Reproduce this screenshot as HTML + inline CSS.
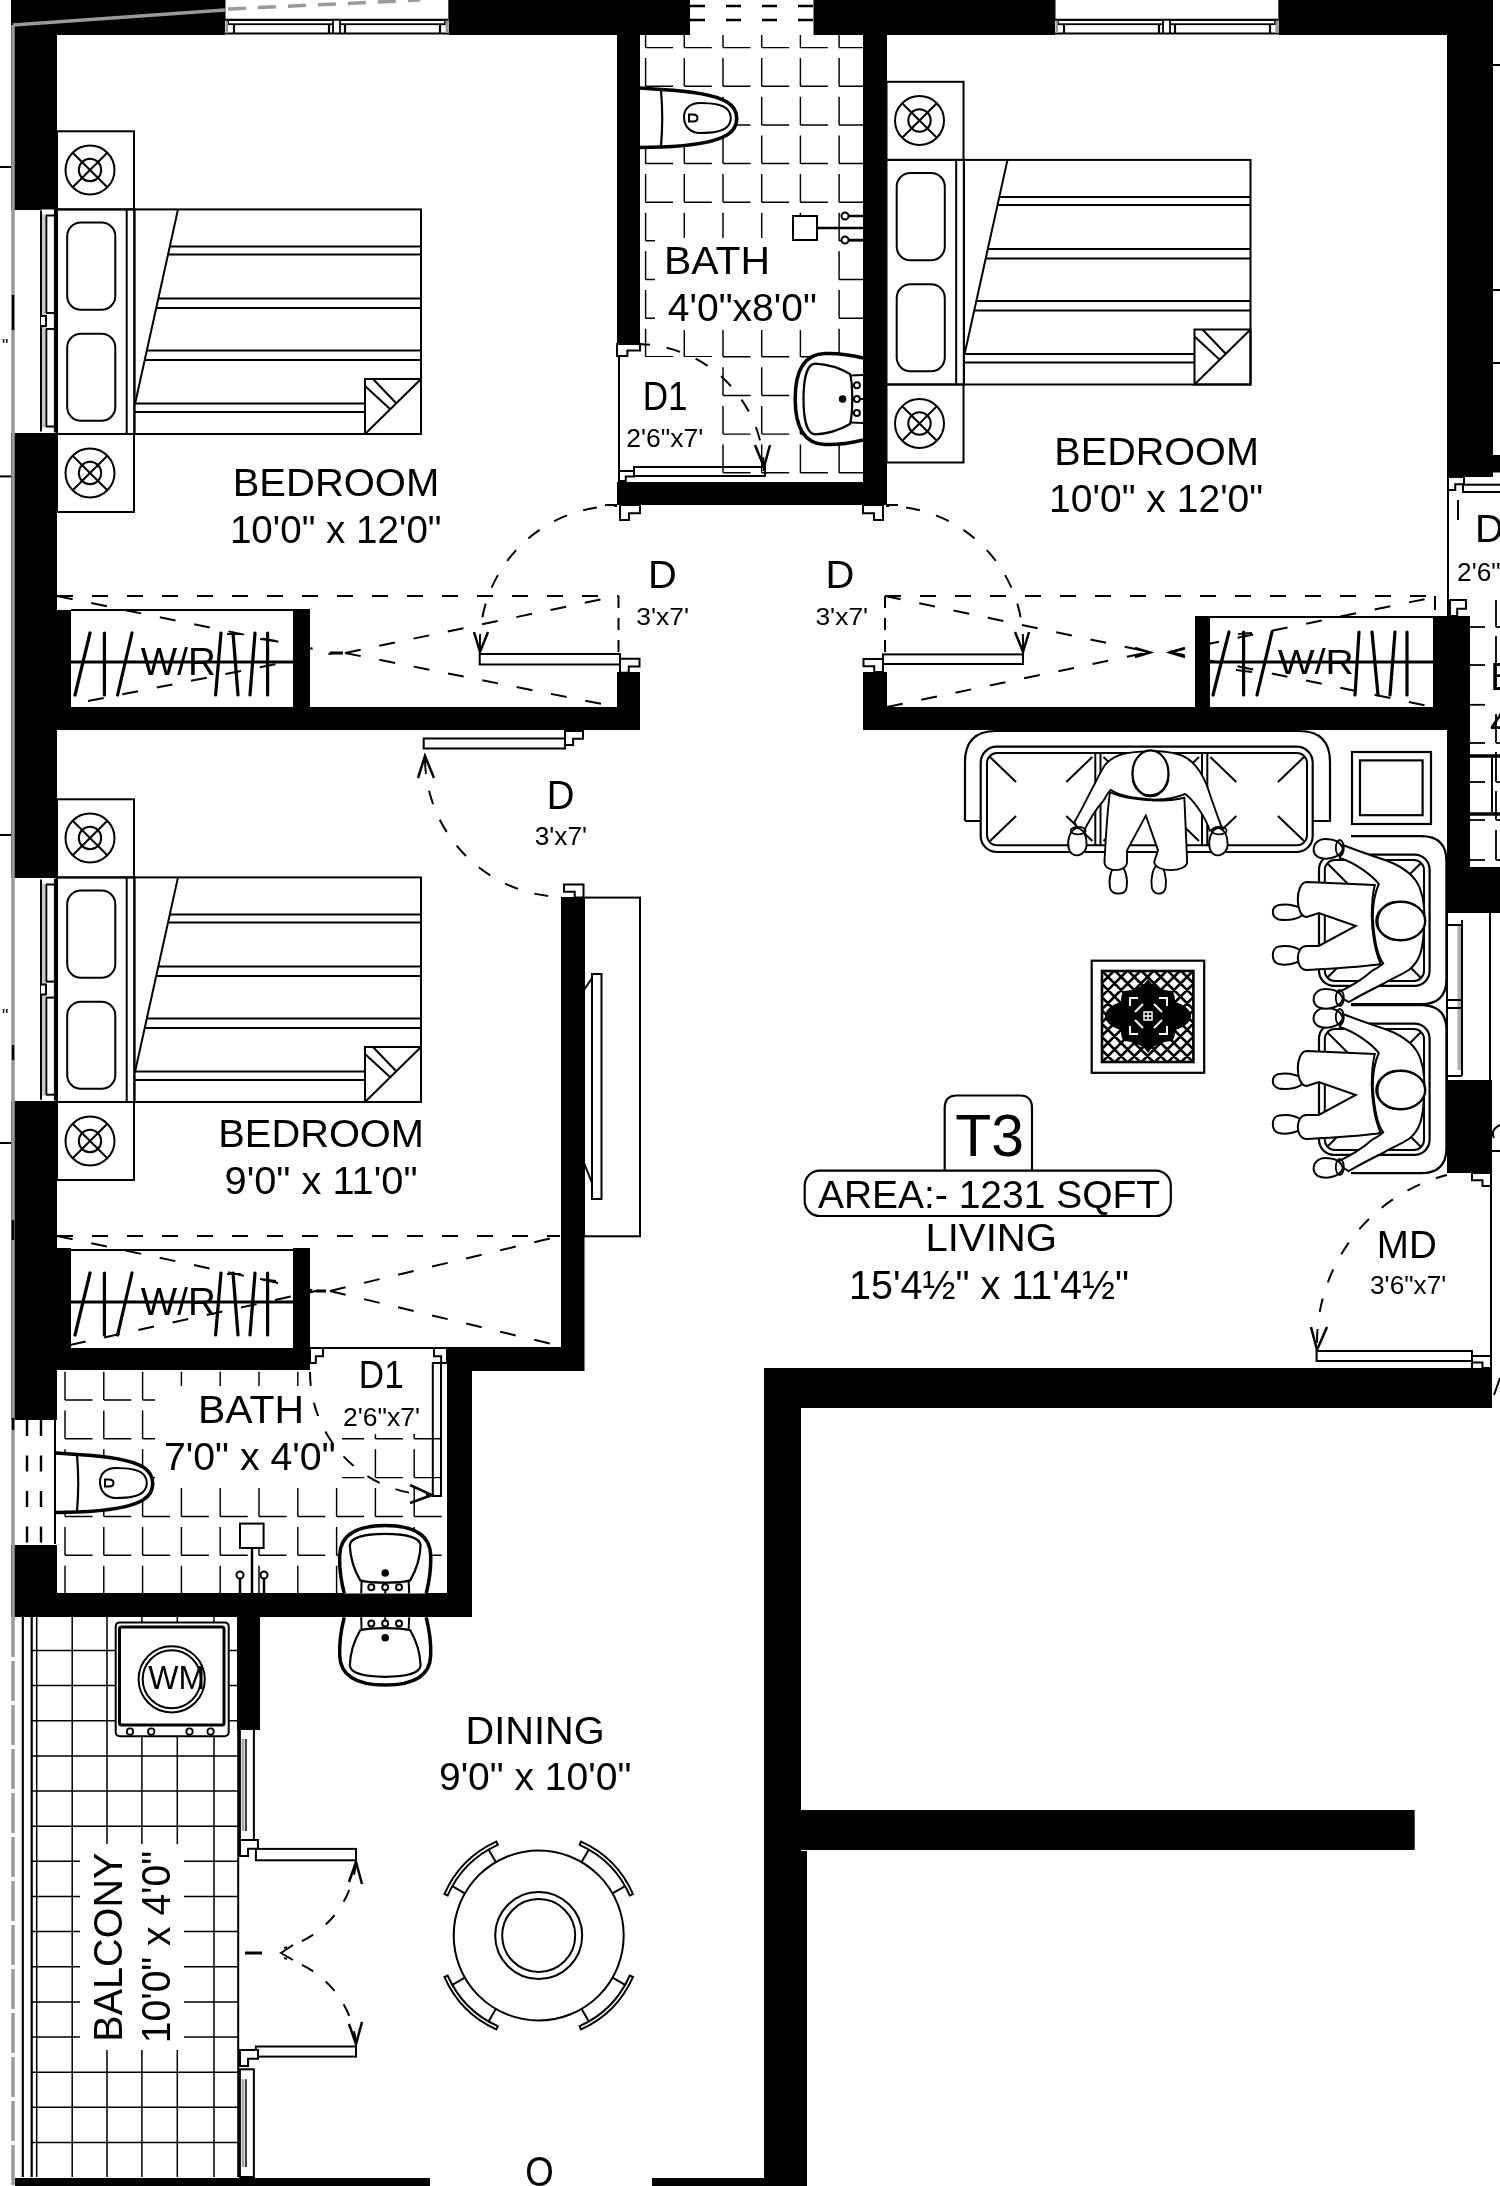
<!DOCTYPE html>
<html><head><meta charset="utf-8"><style>
html,body{margin:0;padding:0;background:#fff;}
svg{display:block;will-change:transform;}
text{font-family:"Liberation Sans",sans-serif;fill:#000;}
</style></head><body>
<svg width="1500" height="2186" viewBox="0 0 1500 2186">
<rect x="11" y="0" width="214.5" height="35" fill="#000"/>
<rect x="448.3" y="0" width="241.7" height="35" fill="#000"/>
<rect x="813.5" y="0" width="242.0" height="35" fill="#000"/>
<rect x="1278.3" y="0" width="214.20000000000005" height="35" fill="#000"/>
<rect x="11" y="0" width="46" height="210" fill="#000"/>
<rect x="11" y="433" width="46" height="445" fill="#000"/>
<rect x="11" y="1101" width="46" height="319" fill="#000"/>
<rect x="11" y="1545" width="46" height="72" fill="#000"/>
<rect x="617" y="35" width="23" height="310" fill="#000"/>
<rect x="863" y="35" width="24" height="465" fill="#000"/>
<rect x="617" y="482" width="270" height="23" fill="#000"/>
<rect x="1447" y="0" width="46" height="477" fill="#000"/>
<rect x="57" y="707" width="583" height="23" fill="#000"/>
<rect x="617" y="672" width="23" height="58" fill="#000"/>
<rect x="863" y="672" width="24" height="58" fill="#000"/>
<rect x="863" y="707" width="607" height="23" fill="#000"/>
<rect x="57" y="610" width="14" height="97" fill="#000"/>
<rect x="293" y="609" width="17" height="98" fill="#000"/>
<rect x="1195" y="616" width="15" height="91" fill="#000"/>
<rect x="1433" y="616" width="37" height="114" fill="#000"/>
<rect x="1447" y="616" width="23" height="297" fill="#000"/>
<rect x="1470" y="867" width="30" height="46" fill="#000"/>
<rect x="1447" y="1080" width="45" height="93" fill="#000"/>
<rect x="561" y="897" width="23.5" height="474" fill="#000"/>
<rect x="57" y="1348" width="253" height="22" fill="#000"/>
<rect x="57" y="1248" width="14" height="122" fill="#000"/>
<rect x="293" y="1248" width="17" height="122" fill="#000"/>
<rect x="447" y="1348" width="25" height="269" fill="#000"/>
<rect x="11" y="1593" width="461" height="24" fill="#000"/>
<rect x="237" y="1617" width="23" height="113" fill="#000"/>
<rect x="764" y="1368" width="728" height="40" fill="#000"/>
<rect x="764" y="1368" width="37" height="483" fill="#000"/>
<rect x="801" y="1810" width="613.7" height="40" fill="#000"/>
<rect x="764" y="1851" width="43" height="335" fill="#000"/>
<rect x="15" y="2178" width="415" height="8" fill="#000"/>
<rect x="652" y="2178" width="112" height="8" fill="#000"/>
<path d="M645.6 35.0V47.6 M645.6 47.6H673.1 M645.6 58.1V86.2 M645.6 86.2H673.1 M645.6 96.8V124.9 M645.6 124.9H673.1 M645.6 135.4V163.5 M645.6 163.5H673.1 M645.6 174.0V202.2 M645.6 202.2H673.1 M645.6 212.7V240.8 M645.6 240.8H673.1 M645.6 251.3V279.5 M645.6 279.5H673.1 M645.6 290.0V318.2 M645.6 318.2H673.1 M645.6 328.7V356.8 M645.6 356.8H673.1 M645.6 367.3V395.4 M645.6 395.4H673.1 M645.6 406.0V434.1 M645.6 434.1H673.1 M645.6 444.6V472.8 M645.6 472.8H673.1 M684.3 35.0V47.6 M684.3 47.6H711.8 M684.3 58.1V86.2 M684.3 86.2H711.8 M684.3 96.8V124.9 M684.3 124.9H711.8 M684.3 135.4V163.5 M684.3 163.5H711.8 M684.3 174.0V202.2 M684.3 202.2H711.8 M684.3 212.7V240.8 M684.3 240.8H711.8 M684.3 251.3V279.5 M684.3 279.5H711.8 M684.3 290.0V318.2 M684.3 318.2H711.8 M684.3 328.7V356.8 M684.3 356.8H711.8 M684.3 367.3V395.4 M684.3 395.4H711.8 M684.3 406.0V434.1 M684.3 434.1H711.8 M684.3 444.6V472.8 M684.3 472.8H711.8 M723.0 35.0V47.6 M723.0 47.6H750.5 M723.0 58.1V86.2 M723.0 86.2H750.5 M723.0 96.8V124.9 M723.0 124.9H750.5 M723.0 135.4V163.5 M723.0 163.5H750.5 M723.0 174.0V202.2 M723.0 202.2H750.5 M723.0 212.7V240.8 M723.0 240.8H750.5 M723.0 251.3V279.5 M723.0 279.5H750.5 M723.0 290.0V318.2 M723.0 318.2H750.5 M723.0 328.7V356.8 M723.0 356.8H750.5 M723.0 367.3V395.4 M723.0 395.4H750.5 M723.0 406.0V434.1 M723.0 434.1H750.5 M723.0 444.6V472.8 M723.0 472.8H750.5 M761.7 35.0V47.6 M761.7 47.6H789.2 M761.7 58.1V86.2 M761.7 86.2H789.2 M761.7 96.8V124.9 M761.7 124.9H789.2 M761.7 135.4V163.5 M761.7 163.5H789.2 M761.7 174.0V202.2 M761.7 202.2H789.2 M761.7 212.7V240.8 M761.7 240.8H789.2 M761.7 251.3V279.5 M761.7 279.5H789.2 M761.7 290.0V318.2 M761.7 318.2H789.2 M761.7 328.7V356.8 M761.7 356.8H789.2 M761.7 367.3V395.4 M761.7 395.4H789.2 M761.7 406.0V434.1 M761.7 434.1H789.2 M761.7 444.6V472.8 M761.7 472.8H789.2 M800.4 35.0V47.6 M800.4 47.6H827.9 M800.4 58.1V86.2 M800.4 86.2H827.9 M800.4 96.8V124.9 M800.4 124.9H827.9 M800.4 135.4V163.5 M800.4 163.5H827.9 M800.4 174.0V202.2 M800.4 202.2H827.9 M800.4 212.7V240.8 M800.4 240.8H827.9 M800.4 251.3V279.5 M800.4 279.5H827.9 M800.4 290.0V318.2 M800.4 318.2H827.9 M800.4 328.7V356.8 M800.4 356.8H827.9 M800.4 367.3V395.4 M800.4 395.4H827.9 M800.4 406.0V434.1 M800.4 434.1H827.9 M800.4 444.6V472.8 M800.4 472.8H827.9 M839.1 35.0V47.6 M839.1 47.6H863.0 M839.1 58.1V86.2 M839.1 86.2H863.0 M839.1 96.8V124.9 M839.1 124.9H863.0 M839.1 135.4V163.5 M839.1 163.5H863.0 M839.1 174.0V202.2 M839.1 202.2H863.0 M839.1 212.7V240.8 M839.1 240.8H863.0 M839.1 251.3V279.5 M839.1 279.5H863.0 M839.1 290.0V318.2 M839.1 318.2H863.0 M839.1 328.7V356.8 M839.1 356.8H863.0 M839.1 367.3V395.4 M839.1 395.4H863.0 M839.1 406.0V434.1 M839.1 434.1H863.0 M839.1 444.6V472.8 M839.1 472.8H863.0" stroke="#000" stroke-width="1.45" fill="none"/>
<path d="M65.0 1371.7V1400.0 M65.0 1400.0H92.5 M65.0 1410.5V1438.8 M65.0 1438.8H92.5 M65.0 1449.3V1477.6 M65.0 1477.6H92.5 M65.0 1488.1V1516.4 M65.0 1516.4H92.5 M65.0 1526.9V1555.2 M65.0 1555.2H92.5 M65.0 1565.7V1593.0 M103.8 1371.7V1400.0 M103.8 1400.0H131.3 M103.8 1410.5V1438.8 M103.8 1438.8H131.3 M103.8 1449.3V1477.6 M103.8 1477.6H131.3 M103.8 1488.1V1516.4 M103.8 1516.4H131.3 M103.8 1526.9V1555.2 M103.8 1555.2H131.3 M103.8 1565.7V1593.0 M142.6 1371.7V1400.0 M142.6 1400.0H170.1 M142.6 1410.5V1438.8 M142.6 1438.8H170.1 M142.6 1449.3V1477.6 M142.6 1477.6H170.1 M142.6 1488.1V1516.4 M142.6 1516.4H170.1 M142.6 1526.9V1555.2 M142.6 1555.2H170.1 M142.6 1565.7V1593.0 M181.4 1371.7V1400.0 M181.4 1400.0H208.9 M181.4 1410.5V1438.8 M181.4 1438.8H208.9 M181.4 1449.3V1477.6 M181.4 1477.6H208.9 M181.4 1488.1V1516.4 M181.4 1516.4H208.9 M181.4 1526.9V1555.2 M181.4 1555.2H208.9 M181.4 1565.7V1593.0 M220.2 1371.7V1400.0 M220.2 1400.0H247.7 M220.2 1410.5V1438.8 M220.2 1438.8H247.7 M220.2 1449.3V1477.6 M220.2 1477.6H247.7 M220.2 1488.1V1516.4 M220.2 1516.4H247.7 M220.2 1526.9V1555.2 M220.2 1555.2H247.7 M220.2 1565.7V1593.0 M259.0 1371.7V1400.0 M259.0 1400.0H286.5 M259.0 1410.5V1438.8 M259.0 1438.8H286.5 M259.0 1449.3V1477.6 M259.0 1477.6H286.5 M259.0 1488.1V1516.4 M259.0 1516.4H286.5 M259.0 1526.9V1555.2 M259.0 1555.2H286.5 M259.0 1565.7V1593.0 M297.8 1371.7V1400.0 M297.8 1400.0H325.3 M297.8 1410.5V1438.8 M297.8 1438.8H325.3 M297.8 1449.3V1477.6 M297.8 1477.6H325.3 M297.8 1488.1V1516.4 M297.8 1516.4H325.3 M297.8 1526.9V1555.2 M297.8 1555.2H325.3 M297.8 1565.7V1593.0 M336.6 1371.7V1400.0 M336.6 1400.0H364.1 M336.6 1410.5V1438.8 M336.6 1438.8H364.1 M336.6 1449.3V1477.6 M336.6 1477.6H364.1 M336.6 1488.1V1516.4 M336.6 1516.4H364.1 M336.6 1526.9V1555.2 M336.6 1555.2H364.1 M336.6 1565.7V1593.0 M375.4 1371.7V1400.0 M375.4 1400.0H402.9 M375.4 1410.5V1438.8 M375.4 1438.8H402.9 M375.4 1449.3V1477.6 M375.4 1477.6H402.9 M375.4 1488.1V1516.4 M375.4 1516.4H402.9 M375.4 1526.9V1555.2 M375.4 1555.2H402.9 M375.4 1565.7V1593.0 M414.2 1371.7V1400.0 M414.2 1400.0H441.7 M414.2 1410.5V1438.8 M414.2 1438.8H441.7 M414.2 1449.3V1477.6 M414.2 1477.6H441.7 M414.2 1488.1V1516.4 M414.2 1516.4H441.7 M414.2 1526.9V1555.2 M414.2 1555.2H441.7 M414.2 1565.7V1593.0" stroke="#000" stroke-width="1.45" fill="none"/>
<rect x="655" y="238" width="175" height="92" fill="#fff"/>
<rect x="621" y="357" width="91" height="125" fill="#fff"/>
<rect x="155" y="1386" width="187" height="95" fill="#fff"/>
<rect x="335" y="1352" width="111" height="82" fill="#fff"/>
<g transform="translate(0,0)">
<path d="M640 88 L661 89.5 C690 91 715 95 727 102 C740 110 740 127 727 135 C715 142 690 146 661 147 L640 147.5" fill="#fff" stroke="#000" stroke-width="3.6"/>
<path d="M661 90 C662.5 108 662.5 130 661 146" fill="none" stroke="#000" stroke-width="2.2"/>
<path d="M684 117 C684 107 692 103 700 103 C712 103 722 104 727 109 C732 114 732 122 727 127 C722 132 712 133 700 133 C692 133 684 128 684 117 Z" fill="none" stroke="#000" stroke-width="2"/>
<path d="M689 114.5 L689 121.5 H693 C696 121.5 697.5 120 697.5 118 C697.5 116 696 114.5 693 114.5 Z" fill="none" stroke="#000" stroke-width="2"/>
</g>
<g transform="translate(-584,1365)">
<path d="M640 88 L661 89.5 C690 91 715 95 727 102 C740 110 740 127 727 135 C715 142 690 146 661 147 L640 147.5" fill="#fff" stroke="#000" stroke-width="3.6"/>
<path d="M661 90 C662.5 108 662.5 130 661 146" fill="none" stroke="#000" stroke-width="2.2"/>
<path d="M684 117 C684 107 692 103 700 103 C712 103 722 104 727 109 C732 114 732 122 727 127 C722 132 712 133 700 133 C692 133 684 128 684 117 Z" fill="none" stroke="#000" stroke-width="2"/>
<path d="M689 114.5 L689 121.5 H693 C696 121.5 697.5 120 697.5 118 C697.5 116 696 114.5 693 114.5 Z" fill="none" stroke="#000" stroke-width="2"/>
</g>
<rect x="793" y="216" width="24" height="24" fill="#fff" stroke="#000" stroke-width="2"/>
<line x1="817" y1="228" x2="863" y2="228" stroke="#000" stroke-width="2.5"/>
<line x1="848" y1="216" x2="863" y2="216" stroke="#000" stroke-width="2.5"/>
<line x1="848" y1="240" x2="863" y2="240" stroke="#000" stroke-width="2.5"/>
<circle cx="845" cy="216" r="3.5" fill="#fff" stroke="#000" stroke-width="2"/>
<circle cx="845" cy="240" r="3.5" fill="#fff" stroke="#000" stroke-width="2"/>
<rect x="240" y="1523.6" width="23.6" height="24.4" fill="#fff" stroke="#000" stroke-width="2"/>
<line x1="252" y1="1548" x2="252" y2="1593" stroke="#000" stroke-width="2.5"/>
<line x1="240" y1="1578" x2="240" y2="1593" stroke="#000" stroke-width="2.5"/>
<line x1="264" y1="1578" x2="264" y2="1593" stroke="#000" stroke-width="2.5"/>
<circle cx="240" cy="1575" r="3.5" fill="#fff" stroke="#000" stroke-width="2"/>
<circle cx="264" cy="1575" r="3.5" fill="#fff" stroke="#000" stroke-width="2"/>
<g transform="translate(0,0)">
<line x1="71" y1="610" x2="293.6" y2="610" stroke="#000" stroke-width="2.2"/>
<line x1="71" y1="662" x2="293.6" y2="662" stroke="#000" stroke-width="3"/>
<line x1="90" y1="633" x2="75" y2="695" stroke="#000" stroke-width="3.2" stroke-linecap="round"/>
<line x1="104.4" y1="633" x2="104.4" y2="695" stroke="#000" stroke-width="3.2" stroke-linecap="round"/>
<line x1="132" y1="633" x2="117.6" y2="695" stroke="#000" stroke-width="3.2" stroke-linecap="round"/>
<line x1="221" y1="633" x2="215.6" y2="695" stroke="#000" stroke-width="3.2" stroke-linecap="round"/>
<line x1="233" y1="633" x2="238" y2="695" stroke="#000" stroke-width="3.2" stroke-linecap="round"/>
<line x1="227" y1="634" x2="241" y2="634" stroke="#000" stroke-width="2"/>
<line x1="255" y1="633" x2="250" y2="695" stroke="#000" stroke-width="3.2" stroke-linecap="round"/>
<line x1="267.6" y1="633" x2="267.6" y2="695" stroke="#000" stroke-width="3.2" stroke-linecap="round"/>
<line x1="260" y1="639" x2="276" y2="641" stroke="#000" stroke-width="2"/>
</g>
<g transform="translate(0,640)">
<line x1="71" y1="610" x2="293.6" y2="610" stroke="#000" stroke-width="2.2"/>
<line x1="71" y1="662" x2="293.6" y2="662" stroke="#000" stroke-width="3"/>
<line x1="90" y1="633" x2="75" y2="695" stroke="#000" stroke-width="3.2" stroke-linecap="round"/>
<line x1="104.4" y1="633" x2="104.4" y2="695" stroke="#000" stroke-width="3.2" stroke-linecap="round"/>
<line x1="132" y1="633" x2="117.6" y2="695" stroke="#000" stroke-width="3.2" stroke-linecap="round"/>
<line x1="221" y1="633" x2="215.6" y2="695" stroke="#000" stroke-width="3.2" stroke-linecap="round"/>
<line x1="233" y1="633" x2="238" y2="695" stroke="#000" stroke-width="3.2" stroke-linecap="round"/>
<line x1="227" y1="634" x2="241" y2="634" stroke="#000" stroke-width="2"/>
<line x1="255" y1="633" x2="250" y2="695" stroke="#000" stroke-width="3.2" stroke-linecap="round"/>
<line x1="267.6" y1="633" x2="267.6" y2="695" stroke="#000" stroke-width="3.2" stroke-linecap="round"/>
<line x1="260" y1="639" x2="276" y2="641" stroke="#000" stroke-width="2"/>
</g>
<line x1="1210" y1="617" x2="1433" y2="617" stroke="#000" stroke-width="2.2"/>
<line x1="1210" y1="662" x2="1433" y2="662" stroke="#000" stroke-width="3"/>
<line x1="1229" y1="632" x2="1213" y2="695" stroke="#000" stroke-width="3.2" stroke-linecap="round"/>
<line x1="1243.6" y1="632" x2="1243.6" y2="695" stroke="#000" stroke-width="3.2" stroke-linecap="round"/>
<line x1="1238" y1="634" x2="1252" y2="633" stroke="#000" stroke-width="2"/>
<line x1="1236" y1="670" x2="1252" y2="672" stroke="#000" stroke-width="2"/>
<line x1="1272" y1="632" x2="1257" y2="695" stroke="#000" stroke-width="3.2" stroke-linecap="round"/>
<line x1="1359" y1="632" x2="1355" y2="695" stroke="#000" stroke-width="3.2" stroke-linecap="round"/>
<line x1="1372" y1="632" x2="1378" y2="695" stroke="#000" stroke-width="3.2" stroke-linecap="round"/>
<line x1="1395" y1="632" x2="1390" y2="695" stroke="#000" stroke-width="3.2" stroke-linecap="round"/>
<line x1="1407" y1="632" x2="1407" y2="695" stroke="#000" stroke-width="3.2" stroke-linecap="round"/>
<line x1="57" y1="596" x2="618.5" y2="596" stroke="#000" stroke-width="2" stroke-dasharray="16 19"/>
<line x1="618.5" y1="596" x2="618.5" y2="655" stroke="#000" stroke-width="2" stroke-dasharray="12 10"/>
<line x1="57" y1="596" x2="333" y2="653" stroke="#000" stroke-width="2" stroke-dasharray="16 19"/>
<line x1="88" y1="701" x2="333" y2="653" stroke="#000" stroke-width="2" stroke-dasharray="16 19"/>
<line x1="345" y1="653" x2="617" y2="596" stroke="#000" stroke-width="2" stroke-dasharray="16 19"/>
<line x1="345" y1="653" x2="617" y2="707" stroke="#000" stroke-width="2" stroke-dasharray="16 19"/>
<line x1="330" y1="653" x2="343" y2="653" stroke="#000" stroke-width="3"/>
<line x1="885" y1="596" x2="1435" y2="596" stroke="#000" stroke-width="2" stroke-dasharray="16 19"/>
<line x1="885" y1="596" x2="885" y2="655" stroke="#000" stroke-width="2" stroke-dasharray="12 10"/>
<line x1="1435" y1="596" x2="1435" y2="610" stroke="#000" stroke-width="2"/>
<line x1="885" y1="596" x2="1150" y2="652" stroke="#000" stroke-width="2" stroke-dasharray="16 19"/>
<line x1="887" y1="707" x2="1150" y2="652" stroke="#000" stroke-width="2" stroke-dasharray="16 19"/>
<line x1="1169" y1="652" x2="1435" y2="597" stroke="#000" stroke-width="2" stroke-dasharray="16 19"/>
<line x1="1169" y1="652" x2="1433" y2="707" stroke="#000" stroke-width="2" stroke-dasharray="16 19"/>
<path d="M1135 648 L1150 652.5 L1135 657" fill="none" stroke="#000" stroke-width="2.5"/>
<path d="M1185 648 L1170 652.5 L1185 657" fill="none" stroke="#000" stroke-width="2.5"/>
<line x1="57" y1="1236" x2="560" y2="1236" stroke="#000" stroke-width="2" stroke-dasharray="16 19"/>
<line x1="57" y1="1236" x2="316" y2="1291" stroke="#000" stroke-width="2" stroke-dasharray="16 19"/>
<line x1="70" y1="1345" x2="316" y2="1291" stroke="#000" stroke-width="2" stroke-dasharray="16 19"/>
<line x1="330" y1="1291" x2="560" y2="1236" stroke="#000" stroke-width="2" stroke-dasharray="16 19"/>
<line x1="330" y1="1291" x2="560" y2="1346" stroke="#000" stroke-width="2" stroke-dasharray="16 19"/>
<line x1="316" y1="1291" x2="326" y2="1291" stroke="#000" stroke-width="3"/>
<rect x="479.7" y="654" width="140.3" height="10.5" rx="0" fill="none" stroke="#000" stroke-width="2"/>
<path d="M620 672.7 V658.7 H639.5 V666.4000000000001 H628.775 V672.7 Z" fill="#fff" stroke="#000" stroke-width="2"/>
<path d="M480 648 A137 137 0 0 1 617 506" fill="none" stroke="#000" stroke-width="2" stroke-dasharray="14 17"/>
<path d="M474 632 L480 652 L488 632" fill="none" stroke="#000" stroke-width="2.5"/>
<line x1="605" y1="505" x2="617" y2="505" stroke="#000" stroke-width="2"/>
<path d="M620 520 V505 H640 V513.25 H629.0 V520 Z" fill="#fff" stroke="#000" stroke-width="2"/>
<rect x="883" y="654.4" width="140" height="9.600000000000023" rx="0" fill="none" stroke="#000" stroke-width="2"/>
<path d="M883.0 672 V659 H863.5 V666.15 H874.225 V672 Z" fill="#fff" stroke="#000" stroke-width="2"/>
<path d="M1023 648 A137 137 0 0 0 886 506" fill="none" stroke="#000" stroke-width="2" stroke-dasharray="14 17"/>
<path d="M1015 632 L1023 652 L1029 632" fill="none" stroke="#000" stroke-width="2.5"/>
<line x1="886" y1="505" x2="898" y2="505" stroke="#000" stroke-width="2"/>
<path d="M883 520 V505 H863 V513.25 H874.0 V520 Z" fill="#fff" stroke="#000" stroke-width="2"/>
<rect x="423.7" y="738.5" width="141.3" height="10.0" rx="0" fill="none" stroke="#000" stroke-width="2"/>
<path d="M565 745 V731 H583 V738.7 H573.1 V745 Z" fill="#fff" stroke="#000" stroke-width="2"/>
<path d="M425 760 A140 140 0 0 0 565 897" fill="none" stroke="#000" stroke-width="2" stroke-dasharray="14 17"/>
<path d="M418 778 L425 756 L434 778" fill="none" stroke="#000" stroke-width="2.5"/>
<path d="M583.5 897.6 V884.4 H564 V891.66 H574.725 V897.6 Z" fill="#fff" stroke="#000" stroke-width="2"/>
<line x1="619" y1="356" x2="619" y2="483" stroke="#000" stroke-width="2"/>
<path d="M617 356 V344 H640 V350.6 H627.35 V356 Z" fill="#fff" stroke="#000" stroke-width="2"/>
<rect x="634" y="467" width="131" height="9" rx="0" fill="none" stroke="#000" stroke-width="2"/>
<path d="M619 481 V471 H634 V476.5 H625.75 V481 Z" fill="#fff" stroke="#000" stroke-width="2"/>
<path d="M636 344 A128 128 0 0 1 764 472" fill="none" stroke="#000" stroke-width="2" stroke-dasharray="14 17"/>
<path d="M755 445 L764 467 L770 445" fill="none" stroke="#000" stroke-width="2.5"/>
<line x1="310" y1="1348" x2="447" y2="1348" stroke="#000" stroke-width="2"/>
<path d="M310 1363 V1348 H323 V1356.25 H315.85 V1363 Z" fill="#fff" stroke="#000" stroke-width="2"/>
<path d="M447 1363 V1348 H434 V1356.25 H441.15 V1363 Z" fill="#fff" stroke="#000" stroke-width="2"/>
<rect x="432.8" y="1363" width="8.199999999999989" height="133" rx="0" fill="none" stroke="#000" stroke-width="2"/>
<path d="M310 1372 A123 123 0 0 0 433 1495" fill="none" stroke="#000" stroke-width="2" stroke-dasharray="14 17"/>
<path d="M410 1485 L432 1495 L410 1503" fill="none" stroke="#000" stroke-width="2.5"/>
<g transform="translate(0,0)">
<rect x="225" y="19" width="223.5" height="16" fill="#fff"/>
<line x1="225" y1="19.7" x2="448.5" y2="19.7" stroke="#000" stroke-width="2"/>
<line x1="225" y1="33.5" x2="448.5" y2="33.5" stroke="#000" stroke-width="2"/>
<rect x="228" y="20" width="105" height="4.199999999999999" rx="0" fill="none" stroke="#000" stroke-width="1.8"/>
<rect x="340" y="20" width="105" height="4.199999999999999" rx="0" fill="none" stroke="#000" stroke-width="1.8"/>
<line x1="234" y1="24" x2="234" y2="33.5" stroke="#000" stroke-width="2.2"/>
<line x1="329" y1="24" x2="329" y2="33.5" stroke="#000" stroke-width="2.2"/>
<line x1="345" y1="24" x2="345" y2="33.5" stroke="#000" stroke-width="2.2"/>
<line x1="440" y1="24" x2="440" y2="33.5" stroke="#000" stroke-width="2.2"/>
<line x1="333" y1="24" x2="333" y2="33.5" stroke="#000" stroke-width="1.8"/>
<line x1="340" y1="24" x2="340" y2="33.5" stroke="#000" stroke-width="1.8"/>
<rect x="445.5" y="21" width="2.5" height="12" fill="#999"/>
<rect x="225.5" y="21" width="2.5" height="12" fill="#999"/>
</g>
<g transform="translate(830,0)">
<rect x="225" y="19" width="223.5" height="16" fill="#fff"/>
<line x1="225" y1="19.7" x2="448.5" y2="19.7" stroke="#000" stroke-width="2"/>
<line x1="225" y1="33.5" x2="448.5" y2="33.5" stroke="#000" stroke-width="2"/>
<rect x="228" y="20" width="105" height="4.199999999999999" rx="0" fill="none" stroke="#000" stroke-width="1.8"/>
<rect x="340" y="20" width="105" height="4.199999999999999" rx="0" fill="none" stroke="#000" stroke-width="1.8"/>
<line x1="234" y1="24" x2="234" y2="33.5" stroke="#000" stroke-width="2.2"/>
<line x1="329" y1="24" x2="329" y2="33.5" stroke="#000" stroke-width="2.2"/>
<line x1="345" y1="24" x2="345" y2="33.5" stroke="#000" stroke-width="2.2"/>
<line x1="440" y1="24" x2="440" y2="33.5" stroke="#000" stroke-width="2.2"/>
<line x1="333" y1="24" x2="333" y2="33.5" stroke="#000" stroke-width="1.8"/>
<line x1="340" y1="24" x2="340" y2="33.5" stroke="#000" stroke-width="1.8"/>
<rect x="445.5" y="21" width="2.5" height="12" fill="#999"/>
<rect x="225.5" y="21" width="2.5" height="12" fill="#999"/>
</g>
<line x1="690" y1="6" x2="814" y2="6" stroke="#000" stroke-width="2.5" stroke-dasharray="15 21"/>
<line x1="690" y1="20" x2="814" y2="20" stroke="#000" stroke-width="2.5" stroke-dasharray="15 21"/>
<g transform="translate(0,0)">
<rect x="57" y="131.3" width="77" height="78.1" rx="0" fill="none" stroke="#000" stroke-width="2"/>
<circle cx="90" cy="170" r="24.5" fill="none" stroke="#000" stroke-width="2"/>
<circle cx="90" cy="170" r="11.2" fill="none" stroke="#000" stroke-width="2"/>
<line x1="72.67605" y1="152.67605" x2="107.32395" y2="187.32395" stroke="#000" stroke-width="2"/>
<line x1="72.67605" y1="187.32395" x2="107.32395" y2="152.67605" stroke="#000" stroke-width="2"/>
<rect x="57" y="434" width="77" height="78" rx="0" fill="none" stroke="#000" stroke-width="2"/>
<circle cx="90" cy="473" r="24.5" fill="none" stroke="#000" stroke-width="2"/>
<circle cx="90" cy="473" r="11.2" fill="none" stroke="#000" stroke-width="2"/>
<line x1="72.67605" y1="455.67605" x2="107.32395" y2="490.32395" stroke="#000" stroke-width="2"/>
<line x1="72.67605" y1="490.32395" x2="107.32395" y2="455.67605" stroke="#000" stroke-width="2"/>
<rect x="57" y="209.4" width="77.4" height="224.6" rx="0" fill="none" stroke="#000" stroke-width="2"/>
<line x1="126.7" y1="209.4" x2="126.7" y2="434" stroke="#000" stroke-width="2"/>
<rect x="67.2" y="222.5" width="48.099999999999994" height="87.19999999999999" rx="13.7" fill="none" stroke="#000" stroke-width="2"/>
<rect x="67.2" y="333.7" width="48.099999999999994" height="87.10000000000002" rx="13.7" fill="none" stroke="#000" stroke-width="2"/>
<rect x="134.4" y="209.4" width="286.6" height="224.6" rx="0" fill="none" stroke="#000" stroke-width="2"/>
<line x1="178" y1="209.4" x2="135" y2="404" stroke="#000" stroke-width="2"/>
<line x1="169.82425488180883" y1="246.4" x2="421" y2="246.4" stroke="#000" stroke-width="2"/>
<line x1="168.05652620760534" y1="254.4" x2="421" y2="254.4" stroke="#000" stroke-width="2"/>
<line x1="158.28982528263103" y1="298.6" x2="421" y2="298.6" stroke="#000" stroke-width="2"/>
<line x1="156.21274409044193" y1="308" x2="421" y2="308" stroke="#000" stroke-width="2"/>
<line x1="146.8437821171634" y1="350.4" x2="421" y2="350.4" stroke="#000" stroke-width="2"/>
<line x1="144.72250770811922" y1="360" x2="421" y2="360" stroke="#000" stroke-width="2"/>
<line x1="135.08838643371018" y1="403.6" x2="365" y2="403.6" stroke="#000" stroke-width="2"/>
<line x1="134.4" y1="412" x2="365" y2="412" stroke="#000" stroke-width="2"/>
<rect x="365" y="379" width="56" height="55" rx="0" fill="none" stroke="#000" stroke-width="2"/>
<line x1="365" y1="434" x2="421" y2="379" stroke="#000" stroke-width="2"/>
<line x1="373" y1="379" x2="396" y2="403" stroke="#000" stroke-width="2"/>
<line x1="365" y1="386" x2="390" y2="409" stroke="#000" stroke-width="2"/>
</g>
<g transform="translate(829.5,-49.5)">
<rect x="57" y="131.3" width="77" height="78.1" rx="0" fill="none" stroke="#000" stroke-width="2"/>
<circle cx="90" cy="170" r="24.5" fill="none" stroke="#000" stroke-width="2"/>
<circle cx="90" cy="170" r="11.2" fill="none" stroke="#000" stroke-width="2"/>
<line x1="72.67605" y1="152.67605" x2="107.32395" y2="187.32395" stroke="#000" stroke-width="2"/>
<line x1="72.67605" y1="187.32395" x2="107.32395" y2="152.67605" stroke="#000" stroke-width="2"/>
<rect x="57" y="434" width="77" height="78" rx="0" fill="none" stroke="#000" stroke-width="2"/>
<circle cx="90" cy="473" r="24.5" fill="none" stroke="#000" stroke-width="2"/>
<circle cx="90" cy="473" r="11.2" fill="none" stroke="#000" stroke-width="2"/>
<line x1="72.67605" y1="455.67605" x2="107.32395" y2="490.32395" stroke="#000" stroke-width="2"/>
<line x1="72.67605" y1="490.32395" x2="107.32395" y2="455.67605" stroke="#000" stroke-width="2"/>
<rect x="57" y="209.4" width="77.4" height="224.6" rx="0" fill="none" stroke="#000" stroke-width="2"/>
<line x1="126.7" y1="209.4" x2="126.7" y2="434" stroke="#000" stroke-width="2"/>
<rect x="67.2" y="222.5" width="48.099999999999994" height="87.19999999999999" rx="13.7" fill="none" stroke="#000" stroke-width="2"/>
<rect x="67.2" y="333.7" width="48.099999999999994" height="87.10000000000002" rx="13.7" fill="none" stroke="#000" stroke-width="2"/>
<rect x="134.4" y="209.4" width="286.6" height="224.6" rx="0" fill="none" stroke="#000" stroke-width="2"/>
<line x1="178" y1="209.4" x2="135" y2="404" stroke="#000" stroke-width="2"/>
<line x1="169.82425488180883" y1="246.4" x2="421" y2="246.4" stroke="#000" stroke-width="2"/>
<line x1="168.05652620760534" y1="254.4" x2="421" y2="254.4" stroke="#000" stroke-width="2"/>
<line x1="158.28982528263103" y1="298.6" x2="421" y2="298.6" stroke="#000" stroke-width="2"/>
<line x1="156.21274409044193" y1="308" x2="421" y2="308" stroke="#000" stroke-width="2"/>
<line x1="146.8437821171634" y1="350.4" x2="421" y2="350.4" stroke="#000" stroke-width="2"/>
<line x1="144.72250770811922" y1="360" x2="421" y2="360" stroke="#000" stroke-width="2"/>
<line x1="135.08838643371018" y1="403.6" x2="365" y2="403.6" stroke="#000" stroke-width="2"/>
<line x1="134.4" y1="412" x2="365" y2="412" stroke="#000" stroke-width="2"/>
<rect x="365" y="379" width="56" height="55" rx="0" fill="none" stroke="#000" stroke-width="2"/>
<line x1="365" y1="434" x2="421" y2="379" stroke="#000" stroke-width="2"/>
<line x1="373" y1="379" x2="396" y2="403" stroke="#000" stroke-width="2"/>
<line x1="365" y1="386" x2="390" y2="409" stroke="#000" stroke-width="2"/>
</g>
<g transform="translate(0,668)">
<rect x="57" y="131.3" width="77" height="78.1" rx="0" fill="none" stroke="#000" stroke-width="2"/>
<circle cx="90" cy="170" r="24.5" fill="none" stroke="#000" stroke-width="2"/>
<circle cx="90" cy="170" r="11.2" fill="none" stroke="#000" stroke-width="2"/>
<line x1="72.67605" y1="152.67605" x2="107.32395" y2="187.32395" stroke="#000" stroke-width="2"/>
<line x1="72.67605" y1="187.32395" x2="107.32395" y2="152.67605" stroke="#000" stroke-width="2"/>
<rect x="57" y="434" width="77" height="78" rx="0" fill="none" stroke="#000" stroke-width="2"/>
<circle cx="90" cy="473" r="24.5" fill="none" stroke="#000" stroke-width="2"/>
<circle cx="90" cy="473" r="11.2" fill="none" stroke="#000" stroke-width="2"/>
<line x1="72.67605" y1="455.67605" x2="107.32395" y2="490.32395" stroke="#000" stroke-width="2"/>
<line x1="72.67605" y1="490.32395" x2="107.32395" y2="455.67605" stroke="#000" stroke-width="2"/>
<rect x="57" y="209.4" width="77.4" height="224.6" rx="0" fill="none" stroke="#000" stroke-width="2"/>
<line x1="126.7" y1="209.4" x2="126.7" y2="434" stroke="#000" stroke-width="2"/>
<rect x="67.2" y="222.5" width="48.099999999999994" height="87.19999999999999" rx="13.7" fill="none" stroke="#000" stroke-width="2"/>
<rect x="67.2" y="333.7" width="48.099999999999994" height="87.10000000000002" rx="13.7" fill="none" stroke="#000" stroke-width="2"/>
<rect x="134.4" y="209.4" width="286.6" height="224.6" rx="0" fill="none" stroke="#000" stroke-width="2"/>
<line x1="178" y1="209.4" x2="135" y2="404" stroke="#000" stroke-width="2"/>
<line x1="169.82425488180883" y1="246.4" x2="421" y2="246.4" stroke="#000" stroke-width="2"/>
<line x1="168.05652620760534" y1="254.4" x2="421" y2="254.4" stroke="#000" stroke-width="2"/>
<line x1="158.28982528263103" y1="298.6" x2="421" y2="298.6" stroke="#000" stroke-width="2"/>
<line x1="156.21274409044193" y1="308" x2="421" y2="308" stroke="#000" stroke-width="2"/>
<line x1="146.8437821171634" y1="350.4" x2="421" y2="350.4" stroke="#000" stroke-width="2"/>
<line x1="144.72250770811922" y1="360" x2="421" y2="360" stroke="#000" stroke-width="2"/>
<line x1="135.08838643371018" y1="403.6" x2="365" y2="403.6" stroke="#000" stroke-width="2"/>
<line x1="134.4" y1="412" x2="365" y2="412" stroke="#000" stroke-width="2"/>
<rect x="365" y="379" width="56" height="55" rx="0" fill="none" stroke="#000" stroke-width="2"/>
<line x1="365" y1="434" x2="421" y2="379" stroke="#000" stroke-width="2"/>
<line x1="373" y1="379" x2="396" y2="403" stroke="#000" stroke-width="2"/>
<line x1="365" y1="386" x2="390" y2="409" stroke="#000" stroke-width="2"/>
</g>
<rect x="447" y="1347" width="137" height="24" fill="#000"/>
<rect x="584" y="897.6" width="56" height="338.69999999999993" rx="0" fill="none" stroke="#000" stroke-width="2"/>
<rect x="592" y="974" width="9.5" height="225" rx="0" fill="none" stroke="#000" stroke-width="2"/>
<line x1="584" y1="990" x2="592" y2="978" stroke="#000" stroke-width="2"/>
<line x1="584" y1="1163" x2="592" y2="1183" stroke="#000" stroke-width="2"/>
<path d="M965 821 V762 Q965 731 996 731 H1299 Q1330 731 1330 762 V821 H1313 M965 821 H981" fill="#fff" stroke="#000" stroke-width="2.2"/>
<rect x="980.7" y="746.7" width="332" height="105.3" rx="16" fill="#fff" stroke="#000" stroke-width="2.2"/>
<rect x="987" y="753" width="320" height="92.3" rx="10" fill="none" stroke="#000" stroke-width="2"/>
<line x1="1095.3" y1="753" x2="1095.3" y2="845.3" stroke="#000" stroke-width="2"/>
<line x1="1100.5" y1="753" x2="1100.5" y2="845.3" stroke="#000" stroke-width="2"/>
<line x1="1202" y1="753" x2="1202" y2="845.3" stroke="#000" stroke-width="2"/>
<line x1="1207.3" y1="753" x2="1207.3" y2="845.3" stroke="#000" stroke-width="2"/>
<line x1="990" y1="757" x2="1016" y2="782" stroke="#000" stroke-width="2"/>
<line x1="990" y1="841" x2="1016" y2="816" stroke="#000" stroke-width="2"/>
<line x1="1066.3" y1="782" x2="1092.3" y2="757" stroke="#000" stroke-width="2"/>
<line x1="1066.3" y1="816" x2="1092.3" y2="841" stroke="#000" stroke-width="2"/>
<line x1="1103.5" y1="757" x2="1129.5" y2="782" stroke="#000" stroke-width="2"/>
<line x1="1103.5" y1="841" x2="1129.5" y2="816" stroke="#000" stroke-width="2"/>
<line x1="1173" y1="782" x2="1199" y2="757" stroke="#000" stroke-width="2"/>
<line x1="1173" y1="816" x2="1199" y2="841" stroke="#000" stroke-width="2"/>
<line x1="1210.3" y1="757" x2="1236.3" y2="782" stroke="#000" stroke-width="2"/>
<line x1="1210.3" y1="841" x2="1236.3" y2="816" stroke="#000" stroke-width="2"/>
<line x1="1278" y1="782" x2="1304" y2="757" stroke="#000" stroke-width="2"/>
<line x1="1278" y1="816" x2="1304" y2="841" stroke="#000" stroke-width="2"/>
<rect x="1352" y="752" width="79" height="72" rx="0" fill="none" stroke="#000" stroke-width="2.2"/>
<rect x="1360" y="760.4" width="62.59999999999991" height="54.80000000000007" rx="0" fill="none" stroke="#000" stroke-width="2.2"/>
<g transform="translate(0,-169)">
<path d="M1351 1005.2 H1421 Q1446.4 1005.2 1446.4 1030 V1148 Q1446.4 1173.2 1421 1173.2 H1351" fill="#fff" stroke="#000" stroke-width="2.2"/>
<rect x="1319" y="1023.6" width="110.6" height="131.2" rx="15" fill="#fff" stroke="#000" stroke-width="2.2"/>
<rect x="1324.8" y="1029" width="99.2" height="121" rx="10" fill="none" stroke="#000" stroke-width="2"/>
<line x1="1327" y1="1032" x2="1355" y2="1060" stroke="#000" stroke-width="2"/>
<line x1="1421" y1="1032" x2="1395" y2="1058" stroke="#000" stroke-width="2"/>
<line x1="1327" y1="1147" x2="1355" y2="1119" stroke="#000" stroke-width="2"/>
<line x1="1421" y1="1147" x2="1395" y2="1121" stroke="#000" stroke-width="2"/>
</g>
<g transform="translate(0,0)">
<path d="M1351 1005.2 H1421 Q1446.4 1005.2 1446.4 1030 V1148 Q1446.4 1173.2 1421 1173.2 H1351" fill="#fff" stroke="#000" stroke-width="2.2"/>
<rect x="1319" y="1023.6" width="110.6" height="131.2" rx="15" fill="#fff" stroke="#000" stroke-width="2.2"/>
<rect x="1324.8" y="1029" width="99.2" height="121" rx="10" fill="none" stroke="#000" stroke-width="2"/>
<line x1="1327" y1="1032" x2="1355" y2="1060" stroke="#000" stroke-width="2"/>
<line x1="1421" y1="1032" x2="1395" y2="1058" stroke="#000" stroke-width="2"/>
<line x1="1327" y1="1147" x2="1355" y2="1119" stroke="#000" stroke-width="2"/>
<line x1="1421" y1="1147" x2="1395" y2="1121" stroke="#000" stroke-width="2"/>
</g>
<g transform="translate(1400.8,1090)"><path d="M-96 -8.8 C-100 -15 -112 -17.6 -122 -16 C-130 -14 -130 -4 -122 -1.5 C-112 0 -100 -2 -96 -8.8 Z" fill="#fff" stroke="#000" stroke-width="2"/><path d="M-96 34.4 C-100 26 -112 24 -122 25.5 C-130 27 -130 41 -122 43 C-112 45 -100 42 -96 34.4 Z" fill="#fff" stroke="#000" stroke-width="2"/><path d="M-58 -76 C-45 -71 -28 -65 -13 -60 C2 -54 14 -46 19 -33 C24 -20 24 -8 23 10 C22 26 20 40 8 49 C-3 56 -10 58 -16 62 C-28 68 -40 74 -52 81 L-66 73 C-55 68 -40 60 -29 50 C-24 47 -20 45 -17.6 42.4 C-24 34 -27 14 -28 -4 C-28 -16 -27 -26 -22 -37 C-28 -45 -45 -58 -61 -63 Z" fill="#fff" stroke="#000" stroke-width="2"/><path d="M-26 -36 L-94 -39 C-106 -39 -106 -4 -94 -4 L-82 -8 L-45 5 L-82 25 L-94 25 C-106 25 -106 49 -94 49 C-60 47 -38 46 -20 43 C-26 30 -29 10 -29 -5 C-29 -18 -28 -28 -26 -36 Z" fill="#fff" stroke="#000" stroke-width="2"/><path d="M-58 -72 C-60 -80 -68 -82 -76 -82 C-88 -82 -92 -66 -80 -63 C-72 -61 -60 -64 -58 -72 Z" fill="#fff" stroke="#000" stroke-width="2"/><path d="M-58 78 C-60 70 -68 68 -76 68 C-88 68 -92 84 -80 87 C-72 89 -60 86 -58 78 Z" fill="#fff" stroke="#000" stroke-width="2"/><ellipse cx="-61" cy="-73" rx="4" ry="8" fill="none" stroke="#000" stroke-width="1.8"/><ellipse cx="-61" cy="77" rx="4" ry="8" fill="none" stroke="#000" stroke-width="1.8"/><ellipse cx="0" cy="0" rx="24.4" ry="19.2" fill="#fff" stroke="#000" stroke-width="2.4"/><path d="M-6 -19 C-28 -16 -30 16 -6 19" fill="none" stroke="#000" stroke-width="2"/></g>
<g transform="translate(1400.8,921)"><path d="M-96 -8.8 C-100 -15 -112 -17.6 -122 -16 C-130 -14 -130 -4 -122 -1.5 C-112 0 -100 -2 -96 -8.8 Z" fill="#fff" stroke="#000" stroke-width="2"/><path d="M-96 34.4 C-100 26 -112 24 -122 25.5 C-130 27 -130 41 -122 43 C-112 45 -100 42 -96 34.4 Z" fill="#fff" stroke="#000" stroke-width="2"/><path d="M-58 -76 C-45 -71 -28 -65 -13 -60 C2 -54 14 -46 19 -33 C24 -20 24 -8 23 10 C22 26 20 40 8 49 C-3 56 -10 58 -16 62 C-28 68 -40 74 -52 81 L-66 73 C-55 68 -40 60 -29 50 C-24 47 -20 45 -17.6 42.4 C-24 34 -27 14 -28 -4 C-28 -16 -27 -26 -22 -37 C-28 -45 -45 -58 -61 -63 Z" fill="#fff" stroke="#000" stroke-width="2"/><path d="M-26 -36 L-94 -39 C-106 -39 -106 -4 -94 -4 L-82 -8 L-45 5 L-82 25 L-94 25 C-106 25 -106 49 -94 49 C-60 47 -38 46 -20 43 C-26 30 -29 10 -29 -5 C-29 -18 -28 -28 -26 -36 Z" fill="#fff" stroke="#000" stroke-width="2"/><path d="M-58 -72 C-60 -80 -68 -82 -76 -82 C-88 -82 -92 -66 -80 -63 C-72 -61 -60 -64 -58 -72 Z" fill="#fff" stroke="#000" stroke-width="2"/><path d="M-58 78 C-60 70 -68 68 -76 68 C-88 68 -92 84 -80 87 C-72 89 -60 86 -58 78 Z" fill="#fff" stroke="#000" stroke-width="2"/><ellipse cx="-61" cy="-73" rx="4" ry="8" fill="none" stroke="#000" stroke-width="1.8"/><ellipse cx="-61" cy="77" rx="4" ry="8" fill="none" stroke="#000" stroke-width="1.8"/><ellipse cx="0" cy="0" rx="24.4" ry="19.2" fill="#fff" stroke="#000" stroke-width="2.4"/><path d="M-6 -19 C-28 -16 -30 16 -6 19" fill="none" stroke="#000" stroke-width="2"/></g>
<g transform="matrix(0,-0.94,-0.94,0,1150.5,773.3)"><path d="M-96 -8.8 C-100 -15 -112 -17.6 -122 -16 C-130 -14 -130 -4 -122 -1.5 C-112 0 -100 -2 -96 -8.8 Z" fill="#fff" stroke="#000" stroke-width="2"/><path d="M-96 34.4 C-100 26 -112 24 -122 25.5 C-130 27 -130 41 -122 43 C-112 45 -100 42 -96 34.4 Z" fill="#fff" stroke="#000" stroke-width="2"/><path d="M-58 -76 C-45 -71 -28 -65 -13 -60 C2 -54 14 -46 19 -33 C24 -20 24 -8 23 10 C22 26 20 40 8 49 C-3 56 -10 58 -16 62 C-28 68 -40 74 -52 81 L-66 73 C-55 68 -40 60 -29 50 C-24 47 -20 45 -17.6 42.4 C-24 34 -27 14 -28 -4 C-28 -16 -27 -26 -22 -37 C-28 -45 -45 -58 -61 -63 Z" fill="#fff" stroke="#000" stroke-width="2"/><path d="M-26 -36 L-94 -39 C-106 -39 -106 -4 -94 -4 L-82 -8 L-45 5 L-82 25 L-94 25 C-106 25 -106 49 -94 49 C-60 47 -38 46 -20 43 C-26 30 -29 10 -29 -5 C-29 -18 -28 -28 -26 -36 Z" fill="#fff" stroke="#000" stroke-width="2"/><path d="M-58 -72 C-60 -80 -68 -82 -76 -82 C-88 -82 -92 -66 -80 -63 C-72 -61 -60 -64 -58 -72 Z" fill="#fff" stroke="#000" stroke-width="2"/><path d="M-58 78 C-60 70 -68 68 -76 68 C-88 68 -92 84 -80 87 C-72 89 -60 86 -58 78 Z" fill="#fff" stroke="#000" stroke-width="2"/><ellipse cx="-61" cy="-73" rx="4" ry="8" fill="none" stroke="#000" stroke-width="1.8"/><ellipse cx="-61" cy="77" rx="4" ry="8" fill="none" stroke="#000" stroke-width="1.8"/><ellipse cx="0" cy="0" rx="24.4" ry="19.2" fill="#fff" stroke="#000" stroke-width="2.4"/><path d="M-6 -19 C-28 -16 -30 16 -6 19" fill="none" stroke="#000" stroke-width="2"/></g>
<rect x="1091.7" y="960.7" width="112.5" height="112.09999999999991" rx="0" fill="none" stroke="#000" stroke-width="2.2"/>
<defs><clipPath id="rugc"><rect x="1102" y="971" width="91.4" height="91"/></clipPath></defs>
<g clip-path="url(#rugc)"><path d="M943.6 971 L1034.6 1062 M943.6 1062 L1034.6 971 M956.8 971 L1047.8 1062 M956.8 1062 L1047.8 971 M970.0 971 L1061.0 1062 M970.0 1062 L1061.0 971 M983.2 971 L1074.2 1062 M983.2 1062 L1074.2 971 M996.4 971 L1087.4 1062 M996.4 1062 L1087.4 971 M1009.6 971 L1100.6 1062 M1009.6 1062 L1100.6 971 M1022.8 971 L1113.8 1062 M1022.8 1062 L1113.8 971 M1036.0 971 L1127.0 1062 M1036.0 1062 L1127.0 971 M1049.2 971 L1140.2 1062 M1049.2 1062 L1140.2 971 M1062.4 971 L1153.4 1062 M1062.4 1062 L1153.4 971 M1075.6 971 L1166.6 1062 M1075.6 1062 L1166.6 971 M1088.8 971 L1179.8 1062 M1088.8 1062 L1179.8 971 M1102.0 971 L1193.0 1062 M1102.0 1062 L1193.0 971 M1115.2 971 L1206.2 1062 M1115.2 1062 L1206.2 971 M1128.4 971 L1219.4 1062 M1128.4 1062 L1219.4 971 M1141.6 971 L1232.6 1062 M1141.6 1062 L1232.6 971 M1154.8 971 L1245.8 1062 M1154.8 1062 L1245.8 971 M1168.0 971 L1259.0 1062 M1168.0 1062 L1259.0 971 M1181.2 971 L1272.2 1062 M1181.2 1062 L1272.2 971 M1194.4 971 L1285.4 1062 M1194.4 1062 L1285.4 971 M1207.6 971 L1298.6 1062 M1207.6 1062 L1298.6 971 M1220.8 971 L1311.8 1062 M1220.8 1062 L1311.8 971 M1234.0 971 L1325.0 1062 M1234.0 1062 L1325.0 971 M1247.2 971 L1338.2 1062 M1247.2 1062 L1338.2 971 M1260.4 971 L1351.4 1062 M1260.4 1062 L1351.4 971 M1273.6 971 L1364.6 1062 M1273.6 1062 L1364.6 971" stroke="#000" stroke-width="2.6"/>
<path d="M1148 979 C1152 986 1160 990 1172 991 C1174 993 1175 996 1175 1002 C1186 1005 1191 1011 1191 1016 C1191 1021 1186 1027 1175 1030 C1175 1036 1174 1039 1172 1041 C1160 1042 1152 1046 1148 1053 C1144 1046 1136 1042 1124 1041 C1122 1039 1121 1036 1121 1030 C1110 1027 1105 1021 1105 1016 C1105 1011 1110 1005 1121 1002 C1121 996 1122 993 1124 991 C1136 990 1144 986 1148 979 Z" fill="#000"/>
</g>
<rect x="1102" y="971" width="91.40000000000009" height="91" rx="0" fill="none" stroke="#000" stroke-width="2.6"/>
<path d="M1130 1006 V998 H1138" stroke="#fff" stroke-width="2" fill="none"/>
<line x1="1135" y1="1012" x2="1143" y2="1004" stroke="#fff" stroke-width="2"/>
<path d="M1167 1006 V998 H1159" stroke="#fff" stroke-width="2" fill="none"/>
<line x1="1162" y1="1012" x2="1154" y2="1004" stroke="#fff" stroke-width="2"/>
<path d="M1130 1026 V1034 H1138" stroke="#fff" stroke-width="2" fill="none"/>
<line x1="1135" y1="1020" x2="1143" y2="1028" stroke="#fff" stroke-width="2"/>
<path d="M1167 1026 V1034 H1159" stroke="#fff" stroke-width="2" fill="none"/>
<line x1="1162" y1="1020" x2="1154" y2="1028" stroke="#fff" stroke-width="2"/>
<path d="M1144 1012 H1152 V1020 H1144 Z M1148 1012 V1020 M1144 1016 H1152" stroke="#fff" stroke-width="1.4" fill="none"/>
<path d="M944.7 1170.7 V1108 Q944.7 1095.5 957 1095.5 H1020 Q1032 1095.5 1032 1108 V1170.7" fill="none" stroke="#000" stroke-width="2.2"/>
<rect x="804.7" y="1170.7" width="366.1" height="45.3" rx="15" fill="none" stroke="#000" stroke-width="2.2"/>
<line x1="1491" y1="1186" x2="1491" y2="1368" stroke="#000" stroke-width="2"/>
<path d="M1491 1186 V1173 H1472 V1180.15 H1482.45 V1186 Z" fill="#fff" stroke="#000" stroke-width="2"/>
<rect x="1316.6" y="1351" width="155.4000000000001" height="10" rx="0" fill="none" stroke="#000" stroke-width="2"/>
<line x1="1472" y1="1351" x2="1472" y2="1368" stroke="#000" stroke-width="2"/>
<path d="M1491 1368 V1356 H1472 V1362.6 H1482.45 V1368 Z" fill="#fff" stroke="#000" stroke-width="2"/>
<path d="M1317 1343 A173 173 0 0 1 1447 1175" fill="none" stroke="#000" stroke-width="2" stroke-dasharray="14 17"/>
<path d="M1311 1327 L1317 1350 L1327 1327" fill="none" stroke="#000" stroke-width="2.5"/>
<g transform="translate(863,399) rotate(-90)"><path d="M-41 0 C-44 -12 -46 -25 -45.5 -38 C-45 -58 -30 -67.8 0 -67.8 C30 -67.8 45 -58 45.5 -38 C46 -25 44 -12 41 0" fill="#fff" stroke="#000" stroke-width="3.5"/><path d="M-25 -13 C-32 -25 -35 -38 -35.4 -48 C-35 -56 -20 -59.5 0 -59.5 C20 -59.5 35 -56 35.4 -48 C35 -38 32 -25 25 -13 C15 -10 -15 -10 -25 -13 Z" fill="#fff" stroke="#000" stroke-width="2.2"/><path d="M-23.6 -13 L-24 0 M23.4 -13 L24 0 M0 -11 V0" stroke="#000" stroke-width="2" fill="none"/><circle cx="-13.9" cy="-6.1" r="3" fill="none" stroke="#000" stroke-width="2"/><circle cx="0" cy="-6.1" r="3" fill="#fff" stroke="#000" stroke-width="2"/><circle cx="13.8" cy="-6.1" r="3" fill="none" stroke="#000" stroke-width="2"/><circle cx="0" cy="-20.4" r="3.8" fill="#000"/></g>
<g transform="translate(385.2,1593.4)"><path d="M-41 0 C-44 -12 -46 -25 -45.5 -38 C-45 -58 -30 -67.8 0 -67.8 C30 -67.8 45 -58 45.5 -38 C46 -25 44 -12 41 0" fill="#fff" stroke="#000" stroke-width="3.5"/><path d="M-25 -13 C-32 -25 -35 -38 -35.4 -48 C-35 -56 -20 -59.5 0 -59.5 C20 -59.5 35 -56 35.4 -48 C35 -38 32 -25 25 -13 C15 -10 -15 -10 -25 -13 Z" fill="#fff" stroke="#000" stroke-width="2.2"/><path d="M-23.6 -13 L-24 0 M23.4 -13 L24 0 M0 -11 V0" stroke="#000" stroke-width="2" fill="none"/><circle cx="-13.9" cy="-6.1" r="3" fill="none" stroke="#000" stroke-width="2"/><circle cx="0" cy="-6.1" r="3" fill="#fff" stroke="#000" stroke-width="2"/><circle cx="13.8" cy="-6.1" r="3" fill="none" stroke="#000" stroke-width="2"/><circle cx="0" cy="-20.4" r="3.8" fill="#000"/></g>
<g transform="translate(385.2,1617.3) scale(1,-1)"><path d="M-41 0 C-44 -12 -46 -25 -45.5 -38 C-45 -58 -30 -67.8 0 -67.8 C30 -67.8 45 -58 45.5 -38 C46 -25 44 -12 41 0" fill="#fff" stroke="#000" stroke-width="3.5"/><path d="M-25 -13 C-32 -25 -35 -38 -35.4 -48 C-35 -56 -20 -59.5 0 -59.5 C20 -59.5 35 -56 35.4 -48 C35 -38 32 -25 25 -13 C15 -10 -15 -10 -25 -13 Z" fill="#fff" stroke="#000" stroke-width="2.2"/><path d="M-23.6 -13 L-24 0 M23.4 -13 L24 0 M0 -11 V0" stroke="#000" stroke-width="2" fill="none"/><circle cx="-13.9" cy="-6.1" r="3" fill="none" stroke="#000" stroke-width="2"/><circle cx="0" cy="-6.1" r="3" fill="#fff" stroke="#000" stroke-width="2"/><circle cx="13.8" cy="-6.1" r="3" fill="none" stroke="#000" stroke-width="2"/><circle cx="0" cy="-20.4" r="3.8" fill="#000"/></g>
<path d="M36.7 1617V2177 M72.2 1617V2177 M107 1617V2177 M141.9 1617V2177 M177.3 1617V2177 M214 1617V2177 M31.7 1650.4H238.2 M31.7 1685.6H238.2 M31.7 1720.7H238.2 M31.7 1755.9H238.2 M31.7 1791.0H238.2 M31.7 1826.2H238.2 M31.7 1861.3H238.2 M31.7 1896.5H238.2 M31.7 1931.6H238.2 M31.7 1966.8H238.2 M31.7 2001.9H238.2 M31.7 2037.1H238.2 M31.7 2072.2H238.2 M31.7 2107.3H238.2 M31.7 2142.5H238.2" stroke="#000" stroke-width="1.5" fill="none"/>
<line x1="22.8" y1="1617" x2="22.8" y2="2177" stroke="#000" stroke-width="2.2"/>
<line x1="31.7" y1="1617" x2="31.7" y2="2177" stroke="#000" stroke-width="2.2"/>
<line x1="238.2" y1="1729" x2="238.2" y2="2177" stroke="#000" stroke-width="2"/>
<rect x="80" y="1844" width="104" height="206" fill="#fff"/>
<rect x="115.7" y="1622.4" width="113" height="113.9" rx="4" fill="#fff" stroke="#000" stroke-width="2"/>
<rect x="119.5" y="1627" width="104.5" height="98" rx="2" fill="none" stroke="#000" stroke-width="3"/>
<circle cx="171.7" cy="1679.3" r="33.1" fill="none" stroke="#000" stroke-width="2"/>
<circle cx="171.7" cy="1679.3" r="29" fill="none" stroke="#000" stroke-width="2"/>
<circle cx="130" cy="1731.6" r="3.2" fill="#fff" stroke="#000" stroke-width="1.8"/>
<circle cx="151.2" cy="1731.6" r="3.2" fill="#fff" stroke="#000" stroke-width="1.8"/>
<circle cx="189.5" cy="1731.6" r="3.2" fill="#fff" stroke="#000" stroke-width="1.8"/>
<circle cx="210.6" cy="1731.6" r="3.2" fill="#fff" stroke="#000" stroke-width="1.8"/>
<rect x="239.9" y="1729" width="14.0" height="112" fill="#fff"/>
<rect x="239.9" y="1729" width="14.0" height="112" rx="0" fill="none" stroke="#000" stroke-width="2"/>
<line x1="243" y1="1739" x2="243" y2="1831" stroke="#aaa" stroke-width="3"/>
<line x1="246" y1="1739" x2="246" y2="1831" stroke="#000" stroke-width="1.5"/>
<rect x="239.9" y="2069.3" width="14.0" height="107.69999999999982" fill="#fff"/>
<rect x="239.9" y="2069.3" width="14.0" height="107.69999999999982" rx="0" fill="none" stroke="#000" stroke-width="2"/>
<line x1="243" y1="2079.3" x2="243" y2="2167" stroke="#aaa" stroke-width="3"/>
<line x1="246" y1="2079.3" x2="246" y2="2167" stroke="#000" stroke-width="1.5"/>
<rect x="255.9" y="1848.9" width="100.1" height="11.399999999999864" rx="0" fill="none" stroke="#000" stroke-width="2"/>
<path d="M240 1856 V1840 H258 V1848.8 H248.1 V1856 Z" fill="#fff" stroke="#000" stroke-width="2"/>
<rect x="255.9" y="2046.5" width="100.1" height="10.099999999999909" rx="0" fill="none" stroke="#000" stroke-width="2"/>
<path d="M240 2066 V2050 H258 V2058.8 H248.1 V2066 Z" fill="#fff" stroke="#000" stroke-width="2"/>
<path d="M356 1862 A98 98 0 0 1 284 1948" fill="none" stroke="#000" stroke-width="2" stroke-dasharray="13 16"/>
<path d="M356 2044 A98 98 0 0 0 284 1958" fill="none" stroke="#000" stroke-width="2" stroke-dasharray="13 16"/>
<path d="M349 1882 L356 1862 L362 1884" fill="none" stroke="#000" stroke-width="2.5"/>
<path d="M349 2024 L356 2044 L362 2022" fill="none" stroke="#000" stroke-width="2.5"/>
<path d="M293 1945 L281 1953 L293 1960" fill="none" stroke="#000" stroke-width="2"/>
<line x1="245" y1="1953" x2="262" y2="1953" stroke="#000" stroke-width="3"/>
<circle cx="538.7" cy="1935.5" r="85" fill="none" stroke="#000" stroke-width="2"/>
<circle cx="538.7" cy="1935.5" r="43.5" fill="none" stroke="#000" stroke-width="2"/>
<circle cx="538.7" cy="1935.5" r="36.5" fill="none" stroke="#000" stroke-width="2"/>
<path d="M444.4 1894.1 A103 103 0 0 1 496.3 1841.6 L497.8 1844.8 A99.5 99.5 0 0 0 447.6 1895.5 Z" fill="#fff" stroke="#000" stroke-width="2"/>
<line x1="452.7" y1="1886.4" x2="464.9" y2="1893.4" stroke="#000" stroke-width="2"/>
<line x1="488.8" y1="1850.0" x2="495.8" y2="1862.1" stroke="#000" stroke-width="2"/>
<path d="M581.1 1841.6 A103 103 0 0 1 633.0 1894.1 L629.8 1895.5 A99.5 99.5 0 0 0 579.6 1844.8 Z" fill="#fff" stroke="#000" stroke-width="2"/>
<line x1="588.6" y1="1850.0" x2="581.6" y2="1862.1" stroke="#000" stroke-width="2"/>
<line x1="624.7" y1="1886.4" x2="612.5" y2="1893.4" stroke="#000" stroke-width="2"/>
<path d="M633.0 1976.9 A103 103 0 0 1 581.1 2029.4 L579.6 2026.2 A99.5 99.5 0 0 0 629.8 1975.5 Z" fill="#fff" stroke="#000" stroke-width="2"/>
<line x1="624.7" y1="1984.6" x2="612.5" y2="1977.6" stroke="#000" stroke-width="2"/>
<line x1="588.6" y1="2021.0" x2="581.6" y2="2008.9" stroke="#000" stroke-width="2"/>
<path d="M496.3 2029.4 A103 103 0 0 1 444.4 1976.9 L447.6 1975.5 A99.5 99.5 0 0 0 497.8 2026.2 Z" fill="#fff" stroke="#000" stroke-width="2"/>
<line x1="488.8" y1="2021.0" x2="495.8" y2="2008.9" stroke="#000" stroke-width="2"/>
<line x1="452.7" y1="1984.6" x2="464.9" y2="1977.6" stroke="#000" stroke-width="2"/>
<rect x="41" y="209.5" width="14" height="223.0" fill="#fff"/>
<rect x="41.5" y="214.5" width="4.5" height="213.0" fill="#c8c8c8"/>
<line x1="41" y1="210.5" x2="41" y2="431.5" stroke="#000" stroke-width="2"/>
<line x1="46.4" y1="215.5" x2="46.4" y2="313.0" stroke="#000" stroke-width="1.8"/>
<line x1="46.4" y1="329.0" x2="46.4" y2="426.5" stroke="#000" stroke-width="1.8"/>
<line x1="55" y1="209.5" x2="55" y2="432.5" stroke="#000" stroke-width="2.2"/>
<line x1="46" y1="215.5" x2="55" y2="215.5" stroke="#000" stroke-width="2"/>
<line x1="46" y1="313.0" x2="55" y2="313.0" stroke="#000" stroke-width="2"/>
<line x1="46" y1="329.0" x2="55" y2="329.0" stroke="#000" stroke-width="2"/>
<line x1="46" y1="426.5" x2="55" y2="426.5" stroke="#000" stroke-width="2"/>
<path d="M41 316.0 H46 V326.0 H41" fill="#fff" stroke="#000" stroke-width="2"/>
<rect x="41" y="878.5" width="14" height="222.20000000000005" fill="#fff"/>
<rect x="41.5" y="883.5" width="4.5" height="212.20000000000005" fill="#c8c8c8"/>
<line x1="41" y1="879.5" x2="41" y2="1099.7" stroke="#000" stroke-width="2"/>
<line x1="46.4" y1="884.5" x2="46.4" y2="981.6" stroke="#000" stroke-width="1.8"/>
<line x1="46.4" y1="997.6" x2="46.4" y2="1094.7" stroke="#000" stroke-width="1.8"/>
<line x1="55" y1="878.5" x2="55" y2="1100.7" stroke="#000" stroke-width="2.2"/>
<line x1="46" y1="884.5" x2="55" y2="884.5" stroke="#000" stroke-width="2"/>
<line x1="46" y1="981.6" x2="55" y2="981.6" stroke="#000" stroke-width="2"/>
<line x1="46" y1="997.6" x2="55" y2="997.6" stroke="#000" stroke-width="2"/>
<line x1="46" y1="1094.7" x2="55" y2="1094.7" stroke="#000" stroke-width="2"/>
<path d="M41 984.6 H46 V994.6 H41" fill="#fff" stroke="#000" stroke-width="2"/>
<rect x="15" y="1420" width="40" height="124" fill="#fff"/>
<line x1="27" y1="1420" x2="27" y2="1544" stroke="#000" stroke-width="2.4" stroke-dasharray="16 19.5"/>
<line x1="41" y1="1420" x2="41" y2="1544" stroke="#000" stroke-width="2.4" stroke-dasharray="16 19.5"/>
<line x1="55" y1="1420" x2="55" y2="1544" stroke="#000" stroke-width="2"/>
<line x1="13" y1="25" x2="13" y2="1617" stroke="#9a9a9a" stroke-width="3.5"/>
<line x1="13" y1="1617" x2="13" y2="2186" stroke="#9a9a9a" stroke-width="3.5" stroke-dasharray="40 4"/>
<line x1="13" y1="295" x2="13" y2="330" stroke="#000" stroke-width="2.5"/>
<line x1="13" y1="1045" x2="13" y2="1060" stroke="#000" stroke-width="2.5"/>
<line x1="13" y1="1220" x2="13" y2="1240" stroke="#000" stroke-width="2.5"/>
<line x1="13" y1="1418" x2="13" y2="1430" stroke="#000" stroke-width="2.5"/>
<line x1="13" y1="25" x2="225" y2="10" stroke="#9a9a9a" stroke-width="3.5"/>
<line x1="228" y1="9" x2="420" y2="0" stroke="#9a9a9a" stroke-width="3.5" stroke-dasharray="18 12"/>
<line x1="0" y1="167" x2="11" y2="167" stroke="#000" stroke-width="2"/>
<line x1="0" y1="476.4" x2="11" y2="476.4" stroke="#000" stroke-width="2"/>
<line x1="0" y1="835" x2="11" y2="835" stroke="#000" stroke-width="2"/>
<line x1="0" y1="1143" x2="11" y2="1143" stroke="#000" stroke-width="2"/>
<text x="2" y="352" font-size="18">"</text>
<text x="2" y="1022" font-size="18">"</text>
<line x1="1492" y1="65" x2="1500" y2="65" stroke="#000" stroke-width="2"/>
<line x1="1492" y1="290" x2="1500" y2="290" stroke="#000" stroke-width="2"/>
<line x1="1492" y1="363" x2="1500" y2="363" stroke="#000" stroke-width="2"/>
<rect x="1492" y="455" width="8" height="17.5" fill="#000"/>
<line x1="1448" y1="477" x2="1448" y2="616" stroke="#000" stroke-width="2"/>
<rect x="1463" y="484.7" width="39" height="7.300000000000011" rx="0" fill="none" stroke="#000" stroke-width="2"/>
<path d="M1448 490 V477 H1464 V484.15 H1455.2 V490 Z" fill="#fff" stroke="#000" stroke-width="2"/>
<path d="M1450 616 V600 H1466 V608.8 H1457.2 V616 Z" fill="#fff" stroke="#000" stroke-width="2"/>
<line x1="1458" y1="500" x2="1458" y2="520" stroke="#000" stroke-width="2"/>
<line x1="1470" y1="627" x2="1485" y2="627" stroke="#000" stroke-width="1.8"/>
<line x1="1470" y1="665" x2="1485" y2="665" stroke="#000" stroke-width="1.8"/>
<line x1="1470" y1="704.8" x2="1485" y2="704.8" stroke="#000" stroke-width="1.8"/>
<line x1="1470" y1="743" x2="1485" y2="743" stroke="#000" stroke-width="1.8"/>
<line x1="1470" y1="782" x2="1485" y2="782" stroke="#000" stroke-width="1.8"/>
<line x1="1470" y1="820" x2="1485" y2="820" stroke="#000" stroke-width="1.8"/>
<line x1="1470" y1="860" x2="1485" y2="860" stroke="#000" stroke-width="1.8"/>
<line x1="1496" y1="600" x2="1496" y2="627" stroke="#000" stroke-width="1.8"/>
<line x1="1496" y1="627" x2="1500" y2="627" stroke="#000" stroke-width="1.8"/>
<line x1="1496" y1="636" x2="1496" y2="665" stroke="#000" stroke-width="1.8"/>
<line x1="1496" y1="665" x2="1500" y2="665" stroke="#000" stroke-width="1.8"/>
<line x1="1496" y1="714" x2="1496" y2="743" stroke="#000" stroke-width="1.8"/>
<line x1="1496" y1="743" x2="1500" y2="743" stroke="#000" stroke-width="1.8"/>
<line x1="1496" y1="752" x2="1496" y2="782" stroke="#000" stroke-width="1.8"/>
<line x1="1496" y1="782" x2="1500" y2="782" stroke="#000" stroke-width="1.8"/>
<line x1="1496" y1="791" x2="1496" y2="820" stroke="#000" stroke-width="1.8"/>
<line x1="1496" y1="820" x2="1500" y2="820" stroke="#000" stroke-width="1.8"/>
<line x1="1496" y1="830" x2="1496" y2="860" stroke="#000" stroke-width="1.8"/>
<line x1="1496" y1="860" x2="1500" y2="860" stroke="#000" stroke-width="1.8"/>
<line x1="1470" y1="756" x2="1500" y2="756" stroke="#000" stroke-width="3.5"/>
<line x1="1470" y1="814" x2="1500" y2="814" stroke="#000" stroke-width="3.5"/>
<line x1="1492" y1="758" x2="1492" y2="812" stroke="#000" stroke-width="2"/>
<rect x="1447" y="913" width="53" height="167" fill="#fff"/>
<line x1="1447" y1="913" x2="1447" y2="1080" stroke="#000" stroke-width="2"/>
<rect x="1457.5" y="925" width="4.5" height="145" fill="#b0b0b0"/>
<line x1="1462" y1="920" x2="1462" y2="1076" stroke="#000" stroke-width="2"/>
<line x1="1490" y1="913" x2="1490" y2="1080" stroke="#000" stroke-width="2"/>
<line x1="1447" y1="925" x2="1462" y2="925" stroke="#000" stroke-width="2"/>
<line x1="1447" y1="1000" x2="1462" y2="1000" stroke="#000" stroke-width="2"/>
<line x1="1447" y1="1008" x2="1462" y2="1008" stroke="#000" stroke-width="2"/>
<line x1="1447" y1="1076" x2="1462" y2="1076" stroke="#000" stroke-width="2"/>
<line x1="1492" y1="1151" x2="1500" y2="1151" stroke="#000" stroke-width="2"/>
<path d="M1494 1138 Q1490 1130 1500 1125" fill="none" stroke="#000" stroke-width="2"/>
<path d="M1494 1395 L1500 1378" fill="none" stroke="#000" stroke-width="2"/>
<text transform="translate(1054.33,465.30) scale(1.0044,1)" font-size="39.43">BEDROOM</text>
<text transform="translate(1049.07,512.20) scale(1.0014,1)" font-size="39.00">10'0" x 12'0"</text>
<text transform="translate(232.70,495.80) scale(1.0252,1)" font-size="39.00">BEDROOM</text>
<text transform="translate(229.90,542.70) scale(1.0009,1)" font-size="38.57">10'0" x 12'0"</text>
<text transform="translate(218.31,1146.90) scale(1.0100,1)" font-size="39.43">BEDROOM</text>
<text transform="translate(224.51,1193.80) scale(1.0204,1)" font-size="39.00">9'0" x 11'0"</text>
<text transform="translate(663.92,274.00) scale(1.0312,1)" font-size="39.71">BATH</text>
<text transform="translate(667.82,321.30) scale(0.9981,1)" font-size="39.14">4'0"x8'0"</text>
<text transform="translate(197.92,1423.30) scale(1.0312,1)" font-size="39.71">BATH</text>
<text transform="translate(163.94,1470.00) scale(1.0035,1)" font-size="39.14">7'0" x 4'0"</text>
<text transform="translate(465.52,1743.50) scale(1.0077,1)" font-size="39.43">DINING</text>
<text transform="translate(438.95,1790.40) scale(1.0008,1)" font-size="39.00">9'0" x 10'0"</text>
<text transform="translate(955.37,1156.00) scale(0.9949,1)" font-size="59.21">T3</text>
<text transform="translate(817.90,1208.00) scale(0.9997,1)" font-size="39.00">AREA:- 1231 SQFT</text>
<text transform="translate(925.39,1250.70) scale(1.0491,1)" font-size="38.28">LIVING</text>
<text transform="translate(848.93,1298.70) scale(0.9821,1)" font-size="40.29">15'4½" x 11'4½"</text>
<text transform="translate(648.11,588.30) scale(1.0256,1)" font-size="38.84">D</text>
<text transform="translate(636.21,625.00) scale(1.0792,1)" font-size="24.52">3'x7'</text>
<text transform="translate(825.40,588.30) scale(1.0300,1)" font-size="38.84">D</text>
<text transform="translate(815.41,625.00) scale(1.0792,1)" font-size="24.52">3'x7'</text>
<text transform="translate(546.84,808.50) scale(0.9475,1)" font-size="40.44">D</text>
<text transform="translate(534.72,845.00) scale(1.0171,1)" font-size="25.81">3'x7'</text>
<text transform="translate(642.70,409.60) scale(0.8654,1)" font-size="40.58">D1</text>
<text transform="translate(626.27,447.00) scale(1.0110,1)" font-size="26.24">2'6"x7'</text>
<text transform="translate(358.80,1388.30) scale(0.8844,1)" font-size="39.71">D1</text>
<text transform="translate(342.97,1426.30) scale(1.0278,1)" font-size="25.81">2'6"x7'</text>
<text transform="translate(1376.82,1258.00) scale(0.9720,1)" font-size="39.71">MD</text>
<text transform="translate(122.30,2041.66) rotate(-90) scale(0.9893,1)" font-size="40.00">BALCONY</text>
<text transform="translate(169.80,2043.23) rotate(-90) scale(0.9796,1)" font-size="39.86">10'0" x 4'0"</text>
<text transform="translate(148.24,1688.70) scale(0.9825,1)" font-size="32.58">WM</text>
<text transform="translate(525.26,2186.00) scale(0.8810,1)" font-size="41.58">O</text>
<text x="1475" y="542.3" font-size="39.5">D</text>
<text x="1457" y="580.7" font-size="26.3">2'6"</text>
<text x="1490" y="690" font-size="39.5">B</text>
<text x="1490" y="735" font-size="39.5">4</text>
<text transform="translate(140.81,675.00) scale(0.9988,1)" font-size="38.62">W/R</text>
<text transform="translate(140.81,1315.00) scale(0.9988,1)" font-size="38.62">W/R</text>
<text transform="translate(1277.80,674.00) scale(1.0903,1)" font-size="35.86">W/R</text>
<text transform="translate(1370.02,1294.00) scale(1.0350,1)" font-size="25.38">3'6"x7'</text>
</svg>
</body></html>
